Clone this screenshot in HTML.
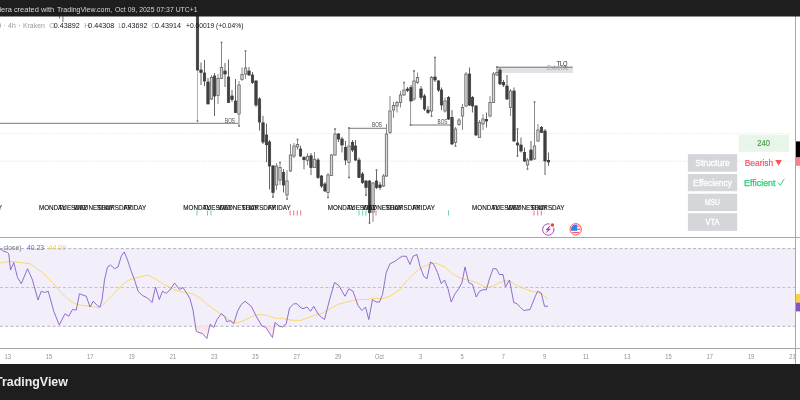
<!DOCTYPE html>
<html><head><meta charset="utf-8"><style>
html,body{margin:0;padding:0;background:#fff;width:800px;height:400px;overflow:hidden}
svg{display:block;will-change:transform}
text{font-family:"Liberation Sans",sans-serif}
.dl{font-size:7.2px;fill:#131722;text-anchor:middle;stroke:#131722;stroke-width:0.15px}
</style></head><body>
<svg width="800" height="400" viewBox="0 0 800 400">
<defs>
<linearGradient id="os" x1="0" y1="0" x2="0" y2="1"><stop offset="0" stop-color="#fbe0e4"/><stop offset="1" stop-color="#fff6f7"/></linearGradient>
<clipPath id="fc"><circle cx="575.7" cy="229.3" r="4.7"/></clipPath>
</defs>
<rect x="0" y="0" width="800" height="400" fill="#ffffff"/>
<line x1="0" y1="133.5" x2="793" y2="133.5" stroke="#fdefb5" stroke-width="0.8" stroke-dasharray="2.2,1.1"/>
<line x1="0" y1="161.2" x2="793" y2="161.2" stroke="#e6e6e8" stroke-width="0.8" stroke-dasharray="2.2,1.1"/>
<line x1="0" y1="123.3" x2="238.5" y2="123.3" stroke="#6a6a6a" stroke-width="0.9"/>
<line x1="348" y1="128.3" x2="386.5" y2="128.3" stroke="#6a6a6a" stroke-width="0.9"/>
<line x1="410.5" y1="125" x2="451.5" y2="125" stroke="#6a6a6a" stroke-width="0.9"/>

<text x="230.00" y="122.60" font-size="6.5" fill="#444" text-anchor="middle" textLength="10.00" lengthAdjust="spacingAndGlyphs">BOS</text>
<text x="377.00" y="126.80" font-size="6.5" fill="#444" text-anchor="middle" textLength="10.00" lengthAdjust="spacingAndGlyphs">BOS</text>
<text x="442.50" y="123.50" font-size="6.5" fill="#444" text-anchor="middle" textLength="10.00" lengthAdjust="spacingAndGlyphs">BOS</text>
<rect x="496.7" y="67.6" width="76.3" height="5.4" fill="#e1e2e6"/>
<line x1="496.2" y1="67.2" x2="572.7" y2="67.2" stroke="#5a5a5a" stroke-width="0.9"/>
<text x="562.00" y="65.80" font-size="6.5" fill="#222" text-anchor="middle" textLength="11.20" lengthAdjust="spacingAndGlyphs">TLQ</text>
<text x="558.00" y="69.80" font-size="6.4" fill="#9c9c9c" text-anchor="middle" textLength="21.30" lengthAdjust="spacingAndGlyphs">Extreme</text>
<line x1="197.5" y1="70" x2="197.5" y2="121" stroke="#a6a6a6" stroke-width="0.9"/><circle cx="197.5" cy="121" r="1" fill="#777"/>
<line x1="410.6" y1="101" x2="410.6" y2="125" stroke="#8a8a8a" stroke-width="0.9"/><circle cx="410.6" cy="125" r="1" fill="#777"/>
<line x1="197.50" y1="10" x2="197.50" y2="70" stroke="#666666" stroke-width="1"/>
<rect x="196.30" y="10" width="2.4" height="60.00" fill="#404040" stroke="#383838" stroke-width="0.7"/>
<line x1="201.00" y1="62.5" x2="201.00" y2="85" stroke="#666666" stroke-width="1"/>
<rect x="199.80" y="70" width="2.4" height="2.50" fill="#404040" stroke="#383838" stroke-width="0.7"/>
<line x1="204.50" y1="60" x2="204.50" y2="86" stroke="#666666" stroke-width="1"/>
<rect x="203.30" y="73" width="2.4" height="8.00" fill="#404040" stroke="#383838" stroke-width="0.7"/>
<line x1="208.00" y1="78" x2="208.00" y2="104" stroke="#666666" stroke-width="1"/>
<rect x="206.80" y="82" width="2.4" height="22.00" fill="#404040" stroke="#383838" stroke-width="0.7"/>
<line x1="211.50" y1="75" x2="211.50" y2="100" stroke="#888888" stroke-width="1"/>
<rect x="210.30" y="77.5" width="2.4" height="21.50" fill="#d6d6d6" stroke="#666666" stroke-width="0.8"/>
<line x1="214.50" y1="73" x2="214.50" y2="116" stroke="#666666" stroke-width="1"/>
<rect x="213.30" y="76" width="2.4" height="20.00" fill="#404040" stroke="#383838" stroke-width="0.7"/>
<line x1="218.00" y1="74" x2="218.00" y2="104" stroke="#888888" stroke-width="1"/>
<rect x="216.80" y="78.5" width="2.4" height="17.00" fill="#d6d6d6" stroke="#666666" stroke-width="0.8"/>
<line x1="221.50" y1="42.5" x2="221.50" y2="79" stroke="#888888" stroke-width="1"/>
<rect x="220.30" y="67.5" width="2.4" height="11.00" fill="#d6d6d6" stroke="#666666" stroke-width="0.8"/>
<circle cx="221.50" cy="42.5" r="1" fill="#777"/>
<line x1="225.00" y1="63" x2="225.00" y2="87" stroke="#666666" stroke-width="1"/>
<rect x="223.80" y="71" width="2.4" height="3.00" fill="#404040" stroke="#383838" stroke-width="0.7"/>
<line x1="228.50" y1="59.5" x2="228.50" y2="103" stroke="#666666" stroke-width="1"/>
<rect x="227.30" y="77" width="2.4" height="25.50" fill="#404040" stroke="#383838" stroke-width="0.7"/>
<line x1="232.00" y1="90" x2="232.00" y2="102" stroke="#666666" stroke-width="1"/>
<rect x="230.80" y="96" width="2.4" height="3.50" fill="#404040" stroke="#383838" stroke-width="0.7"/>
<line x1="235.50" y1="79" x2="235.50" y2="113" stroke="#666666" stroke-width="1"/>
<rect x="234.30" y="101" width="2.4" height="11.50" fill="#404040" stroke="#383838" stroke-width="0.7"/>
<line x1="239.00" y1="81" x2="239.00" y2="126" stroke="#888888" stroke-width="1"/>
<rect x="237.80" y="85" width="2.4" height="29.00" fill="#d6d6d6" stroke="#666666" stroke-width="0.8"/>
<circle cx="239.00" cy="126" r="1" fill="#777"/>
<line x1="242.00" y1="67.5" x2="242.00" y2="81" stroke="#888888" stroke-width="1"/>
<rect x="240.80" y="74.5" width="2.4" height="5.00" fill="#d6d6d6" stroke="#666666" stroke-width="0.8"/>
<line x1="245.50" y1="51" x2="245.50" y2="79" stroke="#888888" stroke-width="1"/>
<rect x="244.30" y="68" width="2.4" height="6.00" fill="#d6d6d6" stroke="#666666" stroke-width="0.8"/>
<circle cx="245.50" cy="51" r="1" fill="#777"/>
<line x1="249.00" y1="67" x2="249.00" y2="76" stroke="#666666" stroke-width="1"/>
<rect x="247.80" y="71" width="2.4" height="4.00" fill="#404040" stroke="#383838" stroke-width="0.7"/>
<line x1="252.50" y1="72" x2="252.50" y2="84" stroke="#666666" stroke-width="1"/>
<rect x="251.30" y="75" width="2.4" height="7.50" fill="#404040" stroke="#383838" stroke-width="0.7"/>
<line x1="256.00" y1="80" x2="256.00" y2="107" stroke="#666666" stroke-width="1"/>
<rect x="254.80" y="81" width="2.4" height="24.00" fill="#404040" stroke="#383838" stroke-width="0.7"/>
<line x1="259.50" y1="97" x2="259.50" y2="130.6" stroke="#666666" stroke-width="1"/>
<rect x="258.30" y="99" width="2.4" height="23.00" fill="#404040" stroke="#383838" stroke-width="0.7"/>
<line x1="263.00" y1="115.8" x2="263.00" y2="144" stroke="#666666" stroke-width="1"/>
<rect x="261.80" y="122.8" width="2.4" height="19.20" fill="#404040" stroke="#383838" stroke-width="0.7"/>
<line x1="266.50" y1="123.6" x2="266.50" y2="162.2" stroke="#666666" stroke-width="1"/>
<rect x="265.30" y="135" width="2.4" height="9.70" fill="#404040" stroke="#383838" stroke-width="0.7"/>
<line x1="269.50" y1="140" x2="269.50" y2="189.5" stroke="#666666" stroke-width="1"/>
<rect x="268.30" y="142" width="2.4" height="24.00" fill="#404040" stroke="#383838" stroke-width="0.7"/>
<line x1="273.00" y1="165" x2="273.00" y2="197" stroke="#666666" stroke-width="1"/>
<rect x="271.80" y="166" width="2.4" height="26.50" fill="#404040" stroke="#383838" stroke-width="0.7"/>
<circle cx="273.00" cy="197" r="1" fill="#777"/>
<line x1="276.50" y1="163" x2="276.50" y2="190" stroke="#888888" stroke-width="1"/>
<rect x="275.30" y="166" width="2.4" height="19.00" fill="#d6d6d6" stroke="#666666" stroke-width="0.8"/>
<line x1="280.00" y1="162.5" x2="280.00" y2="185" stroke="#888888" stroke-width="1"/>
<rect x="278.80" y="167.5" width="2.4" height="12.50" fill="#d6d6d6" stroke="#666666" stroke-width="0.8"/>
<circle cx="280.00" cy="162.5" r="1" fill="#777"/>
<line x1="283.50" y1="169" x2="283.50" y2="192.5" stroke="#666666" stroke-width="1"/>
<rect x="282.30" y="172.5" width="2.4" height="12.50" fill="#404040" stroke="#383838" stroke-width="0.7"/>
<line x1="287.00" y1="170" x2="287.00" y2="199" stroke="#888888" stroke-width="1"/>
<rect x="285.80" y="181" width="2.4" height="14.00" fill="#d6d6d6" stroke="#666666" stroke-width="0.8"/>
<circle cx="287.00" cy="199" r="1" fill="#777"/>
<line x1="290.50" y1="144" x2="290.50" y2="172" stroke="#888888" stroke-width="1"/>
<rect x="289.30" y="155" width="2.4" height="16.00" fill="#d6d6d6" stroke="#666666" stroke-width="0.8"/>
<line x1="294.00" y1="143" x2="294.00" y2="158" stroke="#888888" stroke-width="1"/>
<rect x="292.80" y="146" width="2.4" height="10.00" fill="#d6d6d6" stroke="#666666" stroke-width="0.8"/>
<line x1="297.50" y1="139.5" x2="297.50" y2="149.6" stroke="#888888" stroke-width="1"/>
<rect x="296.30" y="144.5" width="2.4" height="2.50" fill="#d6d6d6" stroke="#666666" stroke-width="0.8"/>
<circle cx="297.50" cy="139.5" r="1" fill="#777"/>
<line x1="300.50" y1="145.7" x2="300.50" y2="157" stroke="#666666" stroke-width="1"/>
<rect x="299.30" y="149" width="2.4" height="7.00" fill="#404040" stroke="#383838" stroke-width="0.7"/>
<line x1="304.00" y1="156" x2="304.00" y2="169.3" stroke="#666666" stroke-width="1"/>
<rect x="302.80" y="157.5" width="2.4" height="2.20" fill="#404040" stroke="#383838" stroke-width="0.7"/>
<line x1="307.50" y1="153" x2="307.50" y2="165.3" stroke="#888888" stroke-width="1"/>
<rect x="306.30" y="156.3" width="2.4" height="4.00" fill="#d6d6d6" stroke="#666666" stroke-width="0.8"/>
<line x1="311.00" y1="153" x2="311.00" y2="175" stroke="#666666" stroke-width="1"/>
<rect x="309.80" y="155.8" width="2.4" height="11.80" fill="#404040" stroke="#383838" stroke-width="0.7"/>
<line x1="314.50" y1="151.9" x2="314.50" y2="168" stroke="#888888" stroke-width="1"/>
<rect x="313.30" y="159.2" width="2.4" height="8.40" fill="#d6d6d6" stroke="#666666" stroke-width="0.8"/>
<line x1="318.00" y1="158" x2="318.00" y2="179" stroke="#666666" stroke-width="1"/>
<rect x="316.80" y="160" width="2.4" height="17.50" fill="#404040" stroke="#383838" stroke-width="0.7"/>
<line x1="321.50" y1="175" x2="321.50" y2="188" stroke="#666666" stroke-width="1"/>
<rect x="320.30" y="176" width="2.4" height="10.00" fill="#404040" stroke="#383838" stroke-width="0.7"/>
<line x1="325.00" y1="182" x2="325.00" y2="192" stroke="#666666" stroke-width="1"/>
<rect x="323.80" y="184" width="2.4" height="7.00" fill="#404040" stroke="#383838" stroke-width="0.7"/>
<line x1="328.00" y1="173" x2="328.00" y2="197.5" stroke="#888888" stroke-width="1"/>
<rect x="326.80" y="175" width="2.4" height="17.50" fill="#d6d6d6" stroke="#666666" stroke-width="0.8"/>
<circle cx="328.00" cy="197.5" r="1" fill="#777"/>
<line x1="331.50" y1="154" x2="331.50" y2="176" stroke="#888888" stroke-width="1"/>
<rect x="330.30" y="155" width="2.4" height="20.50" fill="#d6d6d6" stroke="#666666" stroke-width="0.8"/>
<line x1="335.00" y1="129" x2="335.00" y2="156" stroke="#888888" stroke-width="1"/>
<rect x="333.80" y="134" width="2.4" height="21.00" fill="#d6d6d6" stroke="#666666" stroke-width="0.8"/>
<circle cx="335.00" cy="129" r="1" fill="#777"/>
<line x1="338.50" y1="133" x2="338.50" y2="142" stroke="#666666" stroke-width="1"/>
<rect x="337.30" y="134" width="2.4" height="5.00" fill="#404040" stroke="#383838" stroke-width="0.7"/>
<line x1="342.00" y1="137" x2="342.00" y2="152.5" stroke="#666666" stroke-width="1"/>
<rect x="340.80" y="139" width="2.4" height="6.00" fill="#404040" stroke="#383838" stroke-width="0.7"/>
<line x1="345.50" y1="141" x2="345.50" y2="165" stroke="#666666" stroke-width="1"/>
<rect x="344.30" y="147.5" width="2.4" height="12.50" fill="#404040" stroke="#383838" stroke-width="0.7"/>
<line x1="349.00" y1="128" x2="349.00" y2="177.5" stroke="#888888" stroke-width="1"/>
<rect x="347.80" y="146" width="2.4" height="16.50" fill="#d6d6d6" stroke="#666666" stroke-width="0.8"/>
<circle cx="349.00" cy="128" r="1" fill="#777"/>
<circle cx="349.00" cy="177.5" r="1" fill="#777"/>
<line x1="352.50" y1="140" x2="352.50" y2="152" stroke="#666666" stroke-width="1"/>
<rect x="351.30" y="142.5" width="2.4" height="7.50" fill="#404040" stroke="#383838" stroke-width="0.7"/>
<line x1="355.50" y1="140" x2="355.50" y2="161" stroke="#666666" stroke-width="1"/>
<rect x="354.30" y="146" width="2.4" height="14.00" fill="#404040" stroke="#383838" stroke-width="0.7"/>
<line x1="359.00" y1="157.5" x2="359.00" y2="178" stroke="#666666" stroke-width="1"/>
<rect x="357.80" y="160" width="2.4" height="17.50" fill="#404040" stroke="#383838" stroke-width="0.7"/>
<line x1="362.50" y1="172" x2="362.50" y2="184" stroke="#666666" stroke-width="1"/>
<rect x="361.30" y="174" width="2.4" height="8.50" fill="#404040" stroke="#383838" stroke-width="0.7"/>
<line x1="366.00" y1="180" x2="366.00" y2="195" stroke="#666666" stroke-width="1"/>
<rect x="364.80" y="181" width="2.4" height="6.50" fill="#404040" stroke="#383838" stroke-width="0.7"/>
<circle cx="366.00" cy="195" r="1" fill="#777"/>
<line x1="369.50" y1="180" x2="369.50" y2="223" stroke="#666666" stroke-width="1"/>
<rect x="368.30" y="181" width="2.4" height="31.70" fill="#404040" stroke="#383838" stroke-width="0.7"/>
<circle cx="369.50" cy="223" r="1" fill="#777"/>
<line x1="373.00" y1="182" x2="373.00" y2="222" stroke="#888888" stroke-width="1"/>
<rect x="371.80" y="183" width="2.4" height="29.00" fill="#d6d6d6" stroke="#666666" stroke-width="0.8"/>
<line x1="376.50" y1="170" x2="376.50" y2="189" stroke="#666666" stroke-width="1"/>
<rect x="375.30" y="181" width="2.4" height="6.50" fill="#404040" stroke="#383838" stroke-width="0.7"/>
<circle cx="376.50" cy="170" r="1" fill="#777"/>
<line x1="380.00" y1="182" x2="380.00" y2="190" stroke="#666666" stroke-width="1"/>
<rect x="378.80" y="185" width="2.4" height="2.50" fill="#404040" stroke="#383838" stroke-width="0.7"/>
<line x1="383.50" y1="174" x2="383.50" y2="187" stroke="#888888" stroke-width="1"/>
<rect x="382.30" y="176" width="2.4" height="10.00" fill="#d6d6d6" stroke="#666666" stroke-width="0.8"/>
<line x1="386.50" y1="124" x2="386.50" y2="177" stroke="#888888" stroke-width="1"/>
<rect x="385.30" y="134" width="2.4" height="42.00" fill="#d6d6d6" stroke="#666666" stroke-width="0.8"/>
<line x1="390.00" y1="96" x2="390.00" y2="134" stroke="#888888" stroke-width="1"/>
<rect x="388.80" y="111" width="2.4" height="21.50" fill="#d6d6d6" stroke="#666666" stroke-width="0.8"/>
<line x1="393.50" y1="102" x2="393.50" y2="118" stroke="#888888" stroke-width="1"/>
<rect x="392.30" y="105.5" width="2.4" height="4.50" fill="#d6d6d6" stroke="#666666" stroke-width="0.8"/>
<line x1="397.00" y1="101" x2="397.00" y2="112.5" stroke="#888888" stroke-width="1"/>
<rect x="395.80" y="102.5" width="2.4" height="3.50" fill="#d6d6d6" stroke="#666666" stroke-width="0.8"/>
<line x1="400.50" y1="91" x2="400.50" y2="107.5" stroke="#888888" stroke-width="1"/>
<rect x="399.30" y="95" width="2.4" height="7.50" fill="#d6d6d6" stroke="#666666" stroke-width="0.8"/>
<line x1="404.00" y1="82.5" x2="404.00" y2="96" stroke="#888888" stroke-width="1"/>
<rect x="402.80" y="90" width="2.4" height="5.00" fill="#d6d6d6" stroke="#666666" stroke-width="0.8"/>
<circle cx="404.00" cy="82.5" r="1" fill="#777"/>
<line x1="407.50" y1="87" x2="407.50" y2="92" stroke="#666666" stroke-width="1"/>
<rect x="406.30" y="89" width="2.4" height="1.50" fill="#404040" stroke="#383838" stroke-width="0.7"/>
<line x1="411.00" y1="85" x2="411.00" y2="101" stroke="#666666" stroke-width="1"/>
<rect x="409.80" y="87.5" width="2.4" height="13.50" fill="#404040" stroke="#383838" stroke-width="0.7"/>
<line x1="414.00" y1="71" x2="414.00" y2="101" stroke="#888888" stroke-width="1"/>
<rect x="412.80" y="81" width="2.4" height="18.00" fill="#d6d6d6" stroke="#666666" stroke-width="0.8"/>
<circle cx="414.00" cy="71" r="1" fill="#777"/>
<line x1="417.50" y1="72.5" x2="417.50" y2="84" stroke="#888888" stroke-width="1"/>
<rect x="416.30" y="77.5" width="2.4" height="5.00" fill="#d6d6d6" stroke="#666666" stroke-width="0.8"/>
<line x1="421.00" y1="86" x2="421.00" y2="100" stroke="#666666" stroke-width="1"/>
<rect x="419.80" y="89" width="2.4" height="8.50" fill="#404040" stroke="#383838" stroke-width="0.7"/>
<line x1="424.50" y1="94" x2="424.50" y2="111" stroke="#666666" stroke-width="1"/>
<rect x="423.30" y="96" width="2.4" height="13.00" fill="#404040" stroke="#383838" stroke-width="0.7"/>
<line x1="428.00" y1="106" x2="428.00" y2="114" stroke="#666666" stroke-width="1"/>
<rect x="426.80" y="110" width="2.4" height="2.50" fill="#404040" stroke="#383838" stroke-width="0.7"/>
<line x1="431.50" y1="76" x2="431.50" y2="116" stroke="#888888" stroke-width="1"/>
<rect x="430.30" y="77.5" width="2.4" height="33.50" fill="#d6d6d6" stroke="#666666" stroke-width="0.8"/>
<circle cx="431.50" cy="116" r="1" fill="#777"/>
<line x1="435.00" y1="57.5" x2="435.00" y2="82" stroke="#666666" stroke-width="1"/>
<rect x="433.80" y="77" width="2.4" height="3.00" fill="#404040" stroke="#383838" stroke-width="0.7"/>
<circle cx="435.00" cy="57.5" r="1" fill="#777"/>
<line x1="438.50" y1="80" x2="438.50" y2="92" stroke="#666666" stroke-width="1"/>
<rect x="437.30" y="81" width="2.4" height="9.00" fill="#404040" stroke="#383838" stroke-width="0.7"/>
<line x1="441.50" y1="87.5" x2="441.50" y2="110" stroke="#666666" stroke-width="1"/>
<rect x="440.30" y="90" width="2.4" height="15.00" fill="#404040" stroke="#383838" stroke-width="0.7"/>
<line x1="445.00" y1="97.5" x2="445.00" y2="112.5" stroke="#888888" stroke-width="1"/>
<rect x="443.80" y="101" width="2.4" height="10.00" fill="#d6d6d6" stroke="#666666" stroke-width="0.8"/>
<line x1="448.50" y1="96" x2="448.50" y2="120" stroke="#666666" stroke-width="1"/>
<rect x="447.30" y="97.5" width="2.4" height="21.50" fill="#404040" stroke="#383838" stroke-width="0.7"/>
<line x1="452.00" y1="110" x2="452.00" y2="145" stroke="#666666" stroke-width="1"/>
<rect x="450.80" y="117.5" width="2.4" height="26.50" fill="#404040" stroke="#383838" stroke-width="0.7"/>
<line x1="455.50" y1="127" x2="455.50" y2="146" stroke="#888888" stroke-width="1"/>
<rect x="454.30" y="129" width="2.4" height="13.50" fill="#d6d6d6" stroke="#666666" stroke-width="0.8"/>
<circle cx="455.50" cy="146" r="1" fill="#777"/>
<line x1="459.00" y1="118" x2="459.00" y2="126" stroke="#888888" stroke-width="1"/>
<rect x="457.80" y="120" width="2.4" height="4.50" fill="#d6d6d6" stroke="#666666" stroke-width="0.8"/>
<line x1="462.50" y1="104" x2="462.50" y2="130" stroke="#888888" stroke-width="1"/>
<rect x="461.30" y="107.5" width="2.4" height="8.50" fill="#d6d6d6" stroke="#666666" stroke-width="0.8"/>
<line x1="466.00" y1="72" x2="466.00" y2="107" stroke="#888888" stroke-width="1"/>
<rect x="464.80" y="74" width="2.4" height="32.00" fill="#d6d6d6" stroke="#666666" stroke-width="0.8"/>
<line x1="469.50" y1="67.5" x2="469.50" y2="106" stroke="#666666" stroke-width="1"/>
<rect x="468.30" y="74" width="2.4" height="31.00" fill="#404040" stroke="#383838" stroke-width="0.7"/>
<line x1="472.50" y1="96" x2="472.50" y2="112.5" stroke="#666666" stroke-width="1"/>
<rect x="471.30" y="97.5" width="2.4" height="8.50" fill="#404040" stroke="#383838" stroke-width="0.7"/>
<line x1="476.00" y1="105" x2="476.00" y2="136" stroke="#666666" stroke-width="1"/>
<rect x="474.80" y="106" width="2.4" height="29.00" fill="#404040" stroke="#383838" stroke-width="0.7"/>
<line x1="479.50" y1="120" x2="479.50" y2="138" stroke="#888888" stroke-width="1"/>
<rect x="478.30" y="122.5" width="2.4" height="15.00" fill="#d6d6d6" stroke="#666666" stroke-width="0.8"/>
<line x1="483.00" y1="114" x2="483.00" y2="130" stroke="#888888" stroke-width="1"/>
<rect x="481.80" y="119" width="2.4" height="5.00" fill="#d6d6d6" stroke="#666666" stroke-width="0.8"/>
<line x1="486.50" y1="112.5" x2="486.50" y2="127.5" stroke="#666666" stroke-width="1"/>
<rect x="485.30" y="119.5" width="2.4" height="1.50" fill="#404040" stroke="#383838" stroke-width="0.7"/>
<line x1="490.00" y1="96" x2="490.00" y2="117.5" stroke="#888888" stroke-width="1"/>
<rect x="488.80" y="102.5" width="2.4" height="13.50" fill="#d6d6d6" stroke="#666666" stroke-width="0.8"/>
<line x1="493.50" y1="72" x2="493.50" y2="103" stroke="#888888" stroke-width="1"/>
<rect x="492.30" y="74" width="2.4" height="28.50" fill="#d6d6d6" stroke="#666666" stroke-width="0.8"/>
<line x1="497.00" y1="67" x2="497.00" y2="76" stroke="#888888" stroke-width="1"/>
<rect x="495.80" y="72.5" width="2.4" height="2.50" fill="#d6d6d6" stroke="#666666" stroke-width="0.8"/>
<circle cx="497.00" cy="67" r="1" fill="#777"/>
<line x1="500.00" y1="68" x2="500.00" y2="85" stroke="#666666" stroke-width="1"/>
<rect x="498.80" y="70" width="2.4" height="14.00" fill="#404040" stroke="#383838" stroke-width="0.7"/>
<line x1="503.50" y1="80" x2="503.50" y2="87" stroke="#666666" stroke-width="1"/>
<rect x="502.30" y="82.5" width="2.4" height="2.50" fill="#404040" stroke="#383838" stroke-width="0.7"/>
<line x1="507.00" y1="75" x2="507.00" y2="100" stroke="#666666" stroke-width="1"/>
<rect x="505.80" y="86" width="2.4" height="13.00" fill="#404040" stroke="#383838" stroke-width="0.7"/>
<line x1="510.50" y1="89" x2="510.50" y2="116" stroke="#888888" stroke-width="1"/>
<rect x="509.30" y="91" width="2.4" height="16.50" fill="#d6d6d6" stroke="#666666" stroke-width="0.8"/>
<line x1="514.00" y1="87.5" x2="514.00" y2="142" stroke="#666666" stroke-width="1"/>
<rect x="512.80" y="91" width="2.4" height="50.00" fill="#404040" stroke="#383838" stroke-width="0.7"/>
<line x1="517.50" y1="129" x2="517.50" y2="156" stroke="#666666" stroke-width="1"/>
<rect x="516.30" y="143" width="2.4" height="2.00" fill="#404040" stroke="#383838" stroke-width="0.7"/>
<circle cx="517.50" cy="129" r="1" fill="#777"/>
<circle cx="517.50" cy="156" r="1" fill="#777"/>
<line x1="521.00" y1="137.5" x2="521.00" y2="152.5" stroke="#666666" stroke-width="1"/>
<rect x="519.80" y="145" width="2.4" height="6.00" fill="#404040" stroke="#383838" stroke-width="0.7"/>
<line x1="524.50" y1="147.5" x2="524.50" y2="162" stroke="#666666" stroke-width="1"/>
<rect x="523.30" y="152.5" width="2.4" height="8.50" fill="#404040" stroke="#383838" stroke-width="0.7"/>
<line x1="527.50" y1="158" x2="527.50" y2="169" stroke="#888888" stroke-width="1"/>
<rect x="526.30" y="160" width="2.4" height="5.00" fill="#d6d6d6" stroke="#666666" stroke-width="0.8"/>
<circle cx="527.50" cy="169" r="1" fill="#777"/>
<line x1="531.00" y1="141" x2="531.00" y2="161" stroke="#666666" stroke-width="1"/>
<rect x="529.80" y="150" width="2.4" height="10.00" fill="#404040" stroke="#383838" stroke-width="0.7"/>
<line x1="534.50" y1="102" x2="534.50" y2="160" stroke="#888888" stroke-width="1"/>
<rect x="533.30" y="146" width="2.4" height="13.00" fill="#d6d6d6" stroke="#666666" stroke-width="0.8"/>
<circle cx="534.50" cy="102" r="1" fill="#777"/>
<line x1="538.00" y1="124" x2="538.00" y2="142" stroke="#888888" stroke-width="1"/>
<rect x="536.80" y="130" width="2.4" height="11.00" fill="#d6d6d6" stroke="#666666" stroke-width="0.8"/>
<line x1="541.50" y1="126" x2="541.50" y2="133" stroke="#666666" stroke-width="1"/>
<rect x="540.30" y="127.5" width="2.4" height="5.00" fill="#404040" stroke="#383838" stroke-width="0.7"/>
<line x1="545.00" y1="129" x2="545.00" y2="175" stroke="#666666" stroke-width="1"/>
<rect x="543.80" y="131" width="2.4" height="30.00" fill="#404040" stroke="#383838" stroke-width="0.7"/>
<line x1="548.50" y1="152.5" x2="548.50" y2="166" stroke="#666666" stroke-width="1"/>
<rect x="547.30" y="160.5" width="2.4" height="1.50" fill="#404040" stroke="#383838" stroke-width="0.7"/>
<line x1="62.9" y1="16" x2="62.9" y2="22" stroke="#555" stroke-width="0.8"/>
<line x1="59.5" y1="16" x2="59.5" y2="18.5" stroke="#555" stroke-width="0.8"/>
<text x="-91.88" y="210.2" class="dl" textLength="27.07" lengthAdjust="spacingAndGlyphs">MONDAY</text>
<text x="-71.25" y="210.2" class="dl" textLength="29.17" lengthAdjust="spacingAndGlyphs">TUESDAY</text>
<text x="-50.62" y="210.2" class="dl" textLength="39.97" lengthAdjust="spacingAndGlyphs">WEDNESDAY</text>
<text x="-30.00" y="210.2" class="dl" textLength="34.05" lengthAdjust="spacingAndGlyphs">THURSDAY</text>
<text x="-9.38" y="210.2" class="dl" textLength="22.54" lengthAdjust="spacingAndGlyphs">FRIDAY</text>
<text x="52.50" y="210.2" class="dl" textLength="27.07" lengthAdjust="spacingAndGlyphs">MONDAY</text>
<text x="73.12" y="210.2" class="dl" textLength="29.17" lengthAdjust="spacingAndGlyphs">TUESDAY</text>
<text x="93.75" y="210.2" class="dl" textLength="39.97" lengthAdjust="spacingAndGlyphs">WEDNESDAY</text>
<text x="114.38" y="210.2" class="dl" textLength="34.05" lengthAdjust="spacingAndGlyphs">THURSDAY</text>
<text x="135.00" y="210.2" class="dl" textLength="22.54" lengthAdjust="spacingAndGlyphs">FRIDAY</text>
<text x="196.88" y="210.2" class="dl" textLength="27.07" lengthAdjust="spacingAndGlyphs">MONDAY</text>
<text x="217.50" y="210.2" class="dl" textLength="29.17" lengthAdjust="spacingAndGlyphs">TUESDAY</text>
<text x="238.12" y="210.2" class="dl" textLength="39.97" lengthAdjust="spacingAndGlyphs">WEDNESDAY</text>
<text x="258.75" y="210.2" class="dl" textLength="34.05" lengthAdjust="spacingAndGlyphs">THURSDAY</text>
<text x="279.38" y="210.2" class="dl" textLength="22.54" lengthAdjust="spacingAndGlyphs">FRIDAY</text>
<text x="341.25" y="210.2" class="dl" textLength="27.07" lengthAdjust="spacingAndGlyphs">MONDAY</text>
<text x="361.88" y="210.2" class="dl" textLength="29.17" lengthAdjust="spacingAndGlyphs">TUESDAY</text>
<text x="382.50" y="210.2" class="dl" textLength="39.97" lengthAdjust="spacingAndGlyphs">WEDNESDAY</text>
<text x="403.12" y="210.2" class="dl" textLength="34.05" lengthAdjust="spacingAndGlyphs">THURSDAY</text>
<text x="423.75" y="210.2" class="dl" textLength="22.54" lengthAdjust="spacingAndGlyphs">FRIDAY</text>
<text x="485.62" y="210.2" class="dl" textLength="27.07" lengthAdjust="spacingAndGlyphs">MONDAY</text>
<text x="506.25" y="210.2" class="dl" textLength="29.17" lengthAdjust="spacingAndGlyphs">TUESDAY</text>
<text x="526.88" y="210.2" class="dl" textLength="39.97" lengthAdjust="spacingAndGlyphs">WEDNESDAY</text>
<text x="547.50" y="210.2" class="dl" textLength="34.05" lengthAdjust="spacingAndGlyphs">THURSDAY</text>
<line x1="197" y1="210.5" x2="197" y2="215.5" stroke="#26c281" stroke-width="0.7"/>
<line x1="207.5" y1="210.5" x2="207.5" y2="215.5" stroke="#26c281" stroke-width="0.7"/>
<line x1="211" y1="210.5" x2="211" y2="215.5" stroke="#26c281" stroke-width="0.7"/>
<line x1="359" y1="210.5" x2="359" y2="215.5" stroke="#26c281" stroke-width="0.7"/>
<line x1="362.6" y1="210.5" x2="362.6" y2="215.5" stroke="#26c281" stroke-width="0.7"/>
<line x1="365.9" y1="210.5" x2="365.9" y2="215.5" stroke="#26c281" stroke-width="0.7"/>
<line x1="448.5" y1="210.5" x2="448.5" y2="215.5" stroke="#26c281" stroke-width="0.7"/>
<line x1="290.1" y1="210.5" x2="290.1" y2="215.5" stroke="#f23645" stroke-width="0.7"/>
<line x1="293.7" y1="210.5" x2="293.7" y2="215.5" stroke="#f23645" stroke-width="0.7"/>
<line x1="297.3" y1="210.5" x2="297.3" y2="215.5" stroke="#f23645" stroke-width="0.7"/>
<line x1="300.7" y1="210.5" x2="300.7" y2="215.5" stroke="#f23645" stroke-width="0.7"/>
<line x1="376" y1="210.5" x2="376" y2="215.5" stroke="#f23645" stroke-width="0.7"/>
<line x1="534" y1="210.5" x2="534" y2="215.5" stroke="#f23645" stroke-width="0.7"/>
<line x1="537.7" y1="210.5" x2="537.7" y2="215.5" stroke="#f23645" stroke-width="0.7"/>
<line x1="541.3" y1="210.5" x2="541.3" y2="215.5" stroke="#f23645" stroke-width="0.7"/>
<text x="-2.80" y="28.20" font-size="7.3" fill="#9598a1">9</text>
<text x="4.75" y="28.20" font-size="7.3" fill="#9598a1" text-anchor="middle">·</text>
<text x="8.10" y="28.20" font-size="7.3" fill="#9598a1" textLength="7.60" lengthAdjust="spacingAndGlyphs">4h</text>
<text x="19.40" y="28.20" font-size="7.3" fill="#9598a1" text-anchor="middle">·</text>
<text x="22.90" y="28.20" font-size="7.3" fill="#9598a1" textLength="22.00" lengthAdjust="spacingAndGlyphs">Kraken</text>
<text x="49.20" y="28.20" font-size="7.3" fill="#9da0a8">O</text>
<text x="53.80" y="28.20" font-size="7.3" fill="#131722" textLength="26.00" lengthAdjust="spacingAndGlyphs">0.43892</text>
<text x="84.20" y="28.20" font-size="7.3" fill="#9da0a8">H</text>
<text x="88.20" y="28.20" font-size="7.3" fill="#131722" textLength="26.00" lengthAdjust="spacingAndGlyphs">0.44308</text>
<text x="118.20" y="28.20" font-size="7.3" fill="#9da0a8">L</text>
<text x="121.50" y="28.20" font-size="7.3" fill="#131722" textLength="26.00" lengthAdjust="spacingAndGlyphs">0.43692</text>
<text x="151.30" y="28.20" font-size="7.3" fill="#9da0a8">C</text>
<text x="154.90" y="28.20" font-size="7.3" fill="#131722" textLength="26.00" lengthAdjust="spacingAndGlyphs">0.43914</text>
<text x="186.00" y="28.20" font-size="7.3" fill="#131722" textLength="57.50" lengthAdjust="spacingAndGlyphs">+0.00019 (+0.04%)</text>
<rect x="738.7" y="134.7" width="50.3" height="17.1" fill="#e8f5e9"/>
<text x="763.60" y="146.00" font-size="8.4" fill="#43a047" text-anchor="middle" textLength="12.80" lengthAdjust="spacingAndGlyphs" stroke="#43a047" stroke-width="0.15">240</text>
<rect x="687.9" y="154.1" width="49.3" height="17.6" fill="#d5d6da"/>
<text x="712.50" y="165.90" font-size="9.6" fill="#ffffff" text-anchor="middle" textLength="34.40" lengthAdjust="spacingAndGlyphs" stroke="#ffffff" stroke-width="0.3">Structure</text>
<rect x="687.9" y="174" width="49.3" height="17.2" fill="#d5d6da"/>
<text x="712.50" y="185.80" font-size="9.6" fill="#ffffff" text-anchor="middle" textLength="38.90" lengthAdjust="spacingAndGlyphs" stroke="#ffffff" stroke-width="0.3">Effeciency</text>
<rect x="687.9" y="193.7" width="49.3" height="17.4" fill="#d5d6da"/>
<text x="712.50" y="205.40" font-size="9.6" fill="#ffffff" text-anchor="middle" textLength="15.00" lengthAdjust="spacingAndGlyphs" stroke="#ffffff" stroke-width="0.3">MSU</text>
<rect x="687.9" y="213.2" width="49.3" height="17.7" fill="#d5d6da"/>
<text x="712.50" y="225.00" font-size="9.6" fill="#ffffff" text-anchor="middle" textLength="14.00" lengthAdjust="spacingAndGlyphs" stroke="#ffffff" stroke-width="0.3">VTA</text>
<text x="744.70" y="165.80" font-size="9.6" fill="#f7525f" textLength="28.50" lengthAdjust="spacingAndGlyphs" stroke="#f7525f" stroke-width="0.2">Bearish</text>
<path d="M775.3,160.0 L781.9,160.0 L778.6,165.8 Z" fill="#f7525f"/>
<text x="744.00" y="185.60" font-size="9.6" fill="#1fcf6e" textLength="31.50" lengthAdjust="spacingAndGlyphs" stroke="#1fcf6e" stroke-width="0.25">Efficient</text>
<path d="M778.3,182.6 L780.2,185.3 L784.3,178.8" fill="none" stroke="#1fcf6e" stroke-width="0.9"/>
<rect x="796" y="141.4" width="4" height="16.1" fill="#000"/>
<rect x="796" y="157.5" width="4" height="8.3" fill="#f7818f"/>
<path d="M553.62,227.46 A5.7,5.7 0 1 1 549.68,223.97" fill="none" stroke="#ab47bc" stroke-width="1"/>
<path d="M550.0,226.0 L546.0,229.7 L548.4,229.7 L546.3,232.6 L550.4,228.9 L548.0,228.9 Z" fill="#9c27b0" stroke="#9c27b0" stroke-width="0.5" stroke-linejoin="round"/>
<circle cx="552.4" cy="225" r="1.7" fill="#f23645"/>
<circle cx="575.7" cy="229.3" r="5.7" fill="#fff" stroke="#f7525f" stroke-width="1"/>
<g clip-path="url(#fc)">
<rect x="570.5" y="224" width="6.5" height="6.8" fill="#2f80f0"/>
<rect x="577" y="225.6" width="4" height="1.1" fill="#f7525f"/>
<rect x="577" y="228.6" width="4" height="1.3" fill="#f7525f"/>
<rect x="570" y="231.9" width="12" height="1.3" fill="#f7525f"/>
</g>
<line x1="0" y1="237.5" x2="800" y2="237.5" stroke="#a8a8a8" stroke-width="1"/>
<rect x="0" y="248.5" width="795" height="77.8" fill="#f2eefa"/>
<line x1="0" y1="248.6" x2="795" y2="248.6" stroke="#a2a3aa" stroke-width="0.8" stroke-dasharray="3,2.25"/>
<line x1="0" y1="287.5" x2="795" y2="287.5" stroke="#b5b6bd" stroke-width="0.8" stroke-dasharray="3,2.25"/>
<line x1="0" y1="326.3" x2="795" y2="326.3" stroke="#a2a3aa" stroke-width="0.8" stroke-dasharray="3,2.25"/>

<polygon points="195.45,326.00 196.25,331.25 198.00,332.25 202.50,333.50 206.90,338.50 209.65,326.00" fill="url(#os)"/><polygon points="212.29,326.00 213.75,327.50 214.36,326.00" fill="url(#os)"/><polygon points="261.86,326.00 262.00,326.25 265.50,327.00 268.75,332.00 272.50,337.50 274.42,326.00" fill="url(#os)"/><polygon points="279.20,326.00 279.50,326.25 282.50,327.00 283.65,326.00" fill="url(#os)"/>
<polyline points="0.00,263.00 10.00,261.25 20.00,262.50 30.00,263.75 37.50,268.75 45.00,275.00 52.50,282.50 60.00,291.25 67.50,298.75 75.00,303.75 82.50,305.50 90.00,306.25 100.00,308.00 107.50,300.00 115.00,292.50 122.50,284.50 130.00,279.50 140.00,277.00 147.50,275.00 155.00,278.75 165.00,285.00 175.00,290.00 182.50,292.00 192.50,293.75 200.00,298.00 207.50,304.50 215.00,310.00 222.50,315.00 230.00,320.50 237.50,323.00 245.00,320.00 252.50,316.25 260.00,314.50 267.50,315.50 275.00,318.25 282.50,318.25 290.00,320.00 300.00,320.50 307.50,318.00 315.00,315.00 322.50,313.25 330.00,308.75 337.50,304.50 345.00,302.50 352.50,300.50 360.00,299.50 367.50,299.50 375.00,298.25 382.50,298.75 390.00,296.25 400.00,289.50 407.50,280.00 415.00,272.50 422.50,267.00 432.50,263.00 437.50,263.75 445.00,267.00 452.50,273.75 460.00,278.00 467.50,280.00 475.00,282.00 482.50,285.50 487.50,287.50 492.50,286.25 500.00,282.50 505.00,280.75 510.00,281.25 515.00,284.50 522.50,288.00 530.00,290.75 537.50,292.50 542.50,295.00 548.00,298.75" fill="none" stroke="#f9d65c" stroke-width="0.9"/>
<polyline points="0.00,248.75 3.75,251.25 7.50,252.50 8.75,253.75 10.50,270.00 13.75,262.50 17.50,277.50 21.25,283.75 27.50,268.75 32.50,280.00 38.00,300.00 41.25,291.25 44.50,292.50 48.25,291.25 53.75,311.25 59.25,325.00 65.00,313.75 68.75,316.25 72.50,309.50 76.25,310.00 79.50,293.75 86.25,296.25 90.00,307.00 93.25,301.25 97.50,305.75 100.00,307.00 102.00,300.00 104.50,280.00 107.50,267.00 110.50,265.00 114.50,268.75 118.00,267.00 121.25,256.25 124.25,252.00 127.50,260.00 131.25,271.25 135.00,281.25 138.00,291.25 142.50,295.50 147.50,298.00 152.00,302.50 155.50,287.00 159.25,299.50 162.50,291.25 166.25,293.25 170.00,290.00 174.50,283.00 179.50,289.50 183.00,287.50 186.25,292.50 190.00,298.75 193.00,310.00 196.25,331.25 198.00,332.25 202.50,333.50 206.90,338.50 210.00,324.40 211.90,325.60 213.75,327.50 217.00,319.50 221.25,313.75 224.50,316.25 227.00,322.00 230.00,320.50 233.75,323.75 237.50,311.25 241.25,304.50 245.00,301.25 251.25,306.25 256.25,316.25 262.00,326.25 265.50,327.00 268.75,332.00 272.50,337.50 275.00,322.50 279.50,326.25 282.50,327.00 286.25,323.75 289.50,308.00 293.75,303.75 297.00,303.75 300.00,307.00 303.00,308.75 307.00,307.00 310.50,311.25 313.75,306.25 318.75,315.00 324.50,319.50 329.50,300.00 334.50,282.50 338.75,285.50 345.00,296.25 348.75,288.75 353.00,291.25 358.00,305.50 362.00,310.50 365.50,307.00 368.75,319.50 372.50,299.50 376.25,302.00 379.50,302.00 382.50,294.50 386.25,272.50 390.00,263.75 395.00,261.25 400.00,257.50 402.50,256.25 406.25,256.25 410.00,264.50 413.00,256.25 417.00,254.50 420.00,266.25 423.75,276.25 427.00,278.75 430.50,262.00 433.75,264.50 437.50,272.50 441.25,283.75 444.50,280.00 448.00,288.75 451.25,302.00 455.00,293.75 458.75,288.75 462.00,282.50 465.00,267.00 468.75,282.50 472.50,284.50 476.25,297.00 479.50,291.25 483.75,289.50 486.25,290.00 489.50,278.75 493.00,268.75 496.25,268.75 499.50,274.50 503.00,274.50 505.50,287.00 509.50,280.00 513.75,302.50 517.00,303.75 520.50,307.50 523.75,310.50 530.00,309.50 533.75,300.00 537.50,291.25 541.25,293.00 544.50,306.25 548.00,306.25" fill="none" stroke="#7e57c2" stroke-width="0.85"/>
<text x="3.50" y="249.80" font-size="7.3" fill="#787b86" textLength="18.00" lengthAdjust="spacingAndGlyphs">close)</text>
<text x="27.00" y="249.80" font-size="7.3" fill="#7e57c2" textLength="17.00" lengthAdjust="spacingAndGlyphs">40.23</text>
<text x="48.60" y="249.80" font-size="7.3" fill="#f7c948" textLength="17.60" lengthAdjust="spacingAndGlyphs">44.09</text>
<rect x="796" y="293.9" width="4" height="8.7" fill="#fbd142"/>
<rect x="796" y="302.6" width="4" height="8.8" fill="#7e57c2"/>
<line x1="0" y1="348.5" x2="800" y2="348.5" stroke="#a8a8a8" stroke-width="1"/>
<text x="7.70" y="358.80" font-size="6.8" fill="#8f9199" text-anchor="middle" textLength="6.43" lengthAdjust="spacingAndGlyphs">13</text>
<text x="49.00" y="358.80" font-size="6.8" fill="#8f9199" text-anchor="middle" textLength="6.43" lengthAdjust="spacingAndGlyphs">15</text>
<text x="90.30" y="358.80" font-size="6.8" fill="#8f9199" text-anchor="middle" textLength="6.43" lengthAdjust="spacingAndGlyphs">17</text>
<text x="131.60" y="358.80" font-size="6.8" fill="#8f9199" text-anchor="middle" textLength="6.43" lengthAdjust="spacingAndGlyphs">19</text>
<text x="172.90" y="358.80" font-size="6.8" fill="#8f9199" text-anchor="middle" textLength="6.43" lengthAdjust="spacingAndGlyphs">21</text>
<text x="214.20" y="358.80" font-size="6.8" fill="#8f9199" text-anchor="middle" textLength="6.43" lengthAdjust="spacingAndGlyphs">23</text>
<text x="255.50" y="358.80" font-size="6.8" fill="#8f9199" text-anchor="middle" textLength="6.43" lengthAdjust="spacingAndGlyphs">25</text>
<text x="296.80" y="358.80" font-size="6.8" fill="#8f9199" text-anchor="middle" textLength="6.43" lengthAdjust="spacingAndGlyphs">27</text>
<text x="338.10" y="358.80" font-size="6.8" fill="#8f9199" text-anchor="middle" textLength="6.43" lengthAdjust="spacingAndGlyphs">29</text>
<text x="379.40" y="358.80" font-size="6.8" fill="#8f9199" text-anchor="middle" textLength="8.99" lengthAdjust="spacingAndGlyphs">Oct</text>
<text x="420.70" y="358.80" font-size="6.8" fill="#8f9199" text-anchor="middle" textLength="3.21" lengthAdjust="spacingAndGlyphs">3</text>
<text x="462.00" y="358.80" font-size="6.8" fill="#8f9199" text-anchor="middle" textLength="3.21" lengthAdjust="spacingAndGlyphs">5</text>
<text x="503.30" y="358.80" font-size="6.8" fill="#8f9199" text-anchor="middle" textLength="3.21" lengthAdjust="spacingAndGlyphs">7</text>
<text x="544.60" y="358.80" font-size="6.8" fill="#8f9199" text-anchor="middle" textLength="3.21" lengthAdjust="spacingAndGlyphs">9</text>
<text x="585.90" y="358.80" font-size="6.8" fill="#8f9199" text-anchor="middle" textLength="6.00" lengthAdjust="spacingAndGlyphs">11</text>
<text x="627.20" y="358.80" font-size="6.8" fill="#8f9199" text-anchor="middle" textLength="6.43" lengthAdjust="spacingAndGlyphs">13</text>
<text x="668.50" y="358.80" font-size="6.8" fill="#8f9199" text-anchor="middle" textLength="6.43" lengthAdjust="spacingAndGlyphs">15</text>
<text x="709.80" y="358.80" font-size="6.8" fill="#8f9199" text-anchor="middle" textLength="6.43" lengthAdjust="spacingAndGlyphs">17</text>
<text x="751.10" y="358.80" font-size="6.8" fill="#8f9199" text-anchor="middle" textLength="6.43" lengthAdjust="spacingAndGlyphs">19</text>
<text x="792.40" y="358.80" font-size="6.8" fill="#8f9199" text-anchor="middle" textLength="6.43" lengthAdjust="spacingAndGlyphs">21</text>
<line x1="795.5" y1="16" x2="795.5" y2="364" stroke="#a8a8a8" stroke-width="1"/>
<rect x="0" y="0" width="800" height="16.5" fill="#1e1e1e"/>
<text x="1.00" y="12.00" font-size="8.1" fill="#d6d6d6" textLength="53.20" lengthAdjust="spacingAndGlyphs">era created with</text>
<rect x="0" y="7" width="0.7" height="5" fill="#bdbdbd"/>
<text x="57.00" y="12.00" font-size="8.1" fill="#d6d6d6" textLength="55.30" lengthAdjust="spacingAndGlyphs">TradingView.com,</text>
<text x="115.00" y="12.00" font-size="8.1" fill="#d6d6d6" textLength="82.70" lengthAdjust="spacingAndGlyphs">Oct 09, 2025 07:37 UTC+1</text>
<rect x="0" y="364" width="800" height="36" fill="#1e1e1e"/>
<text x="-5.00" y="386.20" font-size="13.4" fill="#ededed" font-weight="bold" textLength="72.90" lengthAdjust="spacingAndGlyphs">TradingView</text>
</svg>
</body></html>
